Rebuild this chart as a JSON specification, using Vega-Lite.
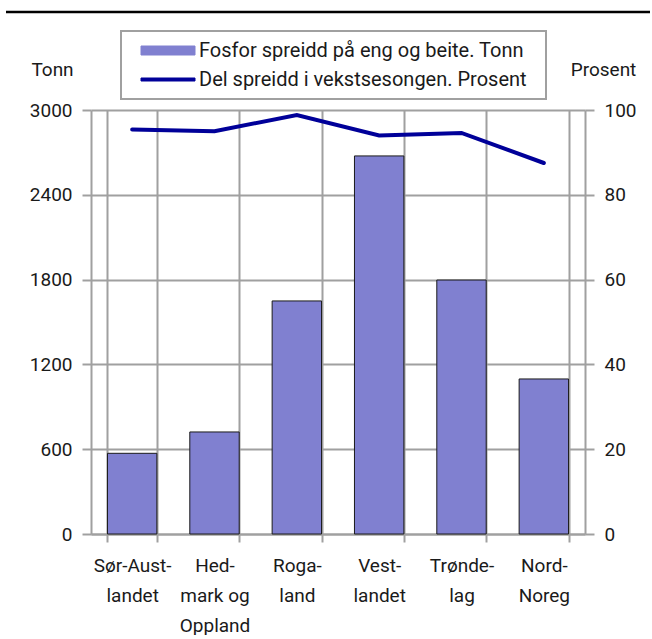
{
  "$schema": "https://vega.github.io/schema/vega-lite/v6.json",
  "padding": {"left": 4, "top": 10, "right": 4, "bottom": 0},
  "background": "white",
  "bounds": "flush",
  "spacing": 98,
  "config": {
    "view": {"stroke": null},
    "font": "Roboto",
    "legend": {"strokeWidth": 2},
    "axis": {
      "domainColor": "#a0a0a0", "domainWidth": 2,
      "tickColor": "#a0a0a0", "tickWidth": 2,
      "gridColor": "#a0a0a0", "gridWidth": 2, "gridOpacity": 1,
      "labelFont": "Roboto", "labelFontSize": 19, "labelColor": "#1a1a1a",
      "titleFont": "Roboto", "titleFontSize": 19, "titleFontWeight": "normal", "titleColor": "#1a1a1a"
    }
  },
  "vconcat": [
    {
      "width": 644, "height": 1,
      "data": {"values": [{"y": 0}]},
      "mark": {"type": "rule", "color": "black", "strokeWidth": 2.5},
      "encoding": {"y": {"field": "y", "type": "quantitative", "scale": {"domain": [0, 1]}, "axis": null}}
    },
    {
      "bounds": "flush",
      "spacing": 84,
      "hconcat": [
        {
          "width": 1, "height": 1,
          "data": {"values": [{"t": ""}]},
          "mark": {"type": "text"},
          "encoding": {"text": {"field": "t"}}
        },
        {
          "width": 494, "height": 424,
          "data": {"values": [
            {"region": "Sør-Aust-|landet", "tonn": 571, "prosent": 95.4},
            {"region": "Hed-|mark og|Oppland", "tonn": 722, "prosent": 95.0},
            {"region": "Roga-|land", "tonn": 1649, "prosent": 98.8},
            {"region": "Vest-|landet", "tonn": 2675, "prosent": 94.0},
            {"region": "Trønde-|lag", "tonn": 1797, "prosent": 94.6},
            {"region": "Nord-|Noreg", "tonn": 1097, "prosent": 87.5}
          ]},
          "encoding": {
            "x": {
              "field": "region", "type": "nominal", "sort": null,
              "scale": {"paddingInner": 0.4, "paddingOuter": 0.2},
              "axis": {
                "title": null, "labelAngle": 0, "labelExpr": "split(datum.label, '|')",
                "tickBand": "extent", "grid": true, "labelLineHeight": 30,
                "labelPadding": 14, "tickSize": 8, "labelOverlap": false, "labelLimit": 0
              }
            }
          },
          "layer": [
            {
              "mark": {"type": "bar", "stroke": "#1a1a1a", "strokeWidth": 1},
              "encoding": {
                "y": {
                  "field": "tonn", "type": "quantitative",
                  "scale": {"domain": [0, 3000]},
                  "axis": {
                    "title": "Tonn", "values": [0, 600, 1200, 1800, 2400, 3000], "format": "d", "grid": true,
                    "titleAngle": 0, "titleX": -39, "titleY": -41, "titleAlign": "center", "titleBaseline": "middle",
                    "labelPadding": 10, "tickSize": 9
                  }
                },
                "color": {
                  "datum": "Fosfor spreidd på eng og beite. Tonn",
                  "scale": {"domain": ["Fosfor spreidd på eng og beite. Tonn", "Del spreidd i vekstsesongen. Prosent"], "range": ["#8080d0", "#000099"]},
                  "legend": {
                    "orient": "none", "legendX": 115, "legendY": 20, "title": " ", "titleOrient": "right", "titlePadding": 10,
                    "direction": "vertical",
                    "padding": 9, "strokeColor": "#a0a0a0", "fillColor": "white", "symbolOffset": 27.5,
                    "labelFont": "Roboto", "labelFontSize": 20, "labelColor": "#1a1a1a", "labelOffset": 20.5, "rowPadding": 8,
                    "symbolSize": 400, "labelLimit": 0, "symbolStrokeWidth": 1,
                    "symbolType": {"expr": "datum.value === 'Del spreidd i vekstsesongen. Prosent' ? 'M-2.7,-0.15H2.7V0.15H-2.7Z' : 'M-2.7,-0.45H2.7V0.45H-2.7Z'"},
                    "symbolOpacity": 1
                  }
                }
              }
            },
            {
              "mark": {"type": "line", "strokeWidth": 4, "strokeCap": "round"},
              "encoding": {
                "y": {
                  "field": "prosent", "type": "quantitative",
                  "scale": {"domain": [0, 100]},
                  "axis": {
                    "orient": "right", "title": "Prosent", "values": [0, 20, 40, 60, 80, 100], "grid": false,
                    "titleAngle": 0, "titleX": 18, "titleY": -41, "titleAlign": "center", "titleBaseline": "middle",
                    "labelPadding": 10, "tickSize": 9
                  }
                },
                "color": {"datum": "Del spreidd i vekstsesongen. Prosent"}
              }
            }
          ],
          "resolve": {"scale": {"y": "independent"}}
        }
      ]
    }
  ]
}
